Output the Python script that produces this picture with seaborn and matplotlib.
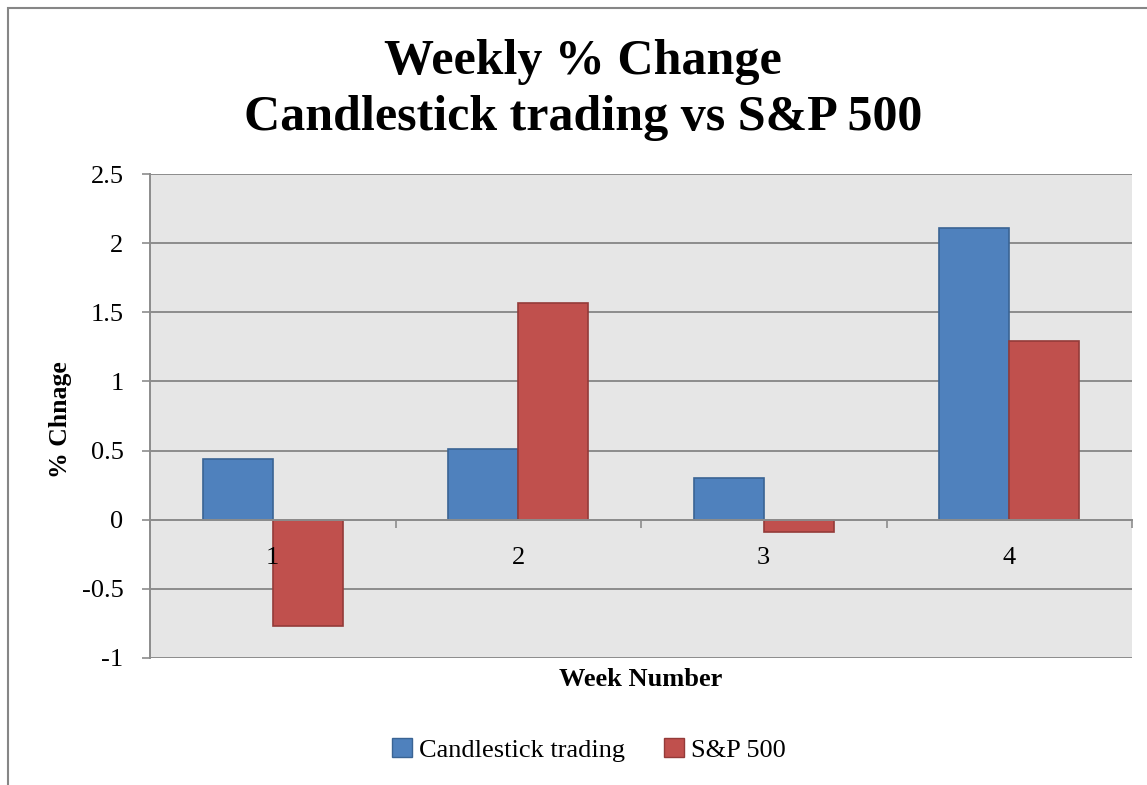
import matplotlib
matplotlib.use('Agg')
import matplotlib.pyplot as plt
import seaborn as sns
import pandas as pd
from matplotlib.patches import Patch, Rectangle
from matplotlib.ticker import MultipleLocator

# data
weeks = ['1', '2', '3', '4']
candlestick = [0.44, 0.51, 0.30, 2.11]
sp500 = [-0.77, 1.57, -0.09, 1.29]
series_names = ['Candlestick trading', 'S&P 500']

fill_colors = {'Candlestick trading': '#4F81BD', 'S&P 500': '#C0504D'}
edge_colors = {'Candlestick trading': '#3A6494', 'S&P 500': '#943B39'}

df = pd.DataFrame({
    'week': weeks * 2,
    'change': candlestick + sp500,
    'series': [series_names[0]] * len(weeks) + [series_names[1]] * len(weeks),
})

sns.set_style("white")
plt.rcParams['font.family'] = ['Liberation Serif', 'DejaVu Serif']
plt.rcParams['text.color'] = 'black'
plt.rcParams['axes.labelcolor'] = 'black'
plt.rcParams['xtick.color'] = 'black'
plt.rcParams['ytick.color'] = 'black'

fig = plt.figure(figsize=(11.47, 7.85), dpi=100)
ax = fig.add_axes([150 / 1147, 1 - 658 / 785, (1132 - 150) / 1147, (658 - 174) / 785])

sns.barplot(data=df, x='week', y='change', hue='series', palette=fill_colors,
            saturation=1, width=0.572, ax=ax, legend=False, zorder=3)

for container, name in zip(ax.containers, series_names):
    for bar in container:
        bar.set_edgecolor(edge_colors[name])
        bar.set_linewidth(1.2)

ax.set_facecolor('#E6E6E6')
ax.set_ylim(-1, 2.5)
ax.set_xlim(-0.5, 3.5)
ax.yaxis.set_major_locator(MultipleLocator(0.5))
ax.yaxis.set_major_formatter(matplotlib.ticker.FuncFormatter(lambda v, p: f'{v:g}'))
ax.grid(True, axis='y', color='#8C8C8C', linewidth=1.4, zorder=0)
ax.grid(False, axis='x')
ax.set_axisbelow(True)
ax.xaxis.set_zorder(5)  # week labels sit on top of the bars, like Excel

for side in ['top', 'right']:
    ax.spines[side].set_visible(False)
ax.spines['left'].set_color('#8C8C8C')
ax.spines['left'].set_linewidth(1.4)
ax.spines['bottom'].set_position(('data', 0))
ax.spines['bottom'].set_color('#8C8C8C')
ax.spines['bottom'].set_linewidth(1.4)
ax.spines['bottom'].set_zorder(4)

ax.tick_params(axis='y', direction='out', length=6, width=1.2, color='#8C8C8C',
               labelsize=19, pad=13, left=True, labelcolor='black')
ax.set_xticks(range(len(weeks)))
ax.set_xticklabels(weeks)
ax.set_xticks([-0.5, 0.5, 1.5, 2.5, 3.5], minor=True)
ax.tick_params(axis='x', which='major', length=0, labelsize=19, pad=20,
               labelcolor='black')
ax.tick_params(axis='x', which='minor', direction='out', length=6, width=1.2,
               color='#8C8C8C', bottom=True)

ax.set_xlabel('Week Number', fontsize=19, fontweight='bold', va='center')
ax.xaxis.set_label_coords(0.5, (658 - 680) / 484)
ax.set_ylabel('% Chnage', fontsize=18.5, fontweight='bold', va='center')
ax.yaxis.set_label_coords((60 - 150) / 982, (658 - 420) / 484)

fig.text(583 / 1147, 1 - 90 / 785, 'Weekly % Change\nCandlestick trading vs S&P 500',
         ha='center', va='center', fontsize=36, fontweight='bold', linespacing=1.27)

handles = [Patch(facecolor=fill_colors[n], edgecolor=edge_colors[n], label=n)
           for n in series_names]
fig.legend(handles=handles, loc='center', bbox_to_anchor=(589 / 1147, 1 - 750 / 785),
           ncol=2, frameon=False, fontsize=19, handlelength=0.75, handleheight=0.75,
           handletextpad=0.25, columnspacing=1.5)

# chart-area border (only left and top edges fall inside the image)
fig.patches.append(Rectangle((8 / 1147, -0.05), 1.2, 1.05 - 8 / 785,
                             transform=fig.transFigure, fill=False,
                             edgecolor='#868686', linewidth=1.5))

fig.savefig('out.png', dpi=100, facecolor='white')
